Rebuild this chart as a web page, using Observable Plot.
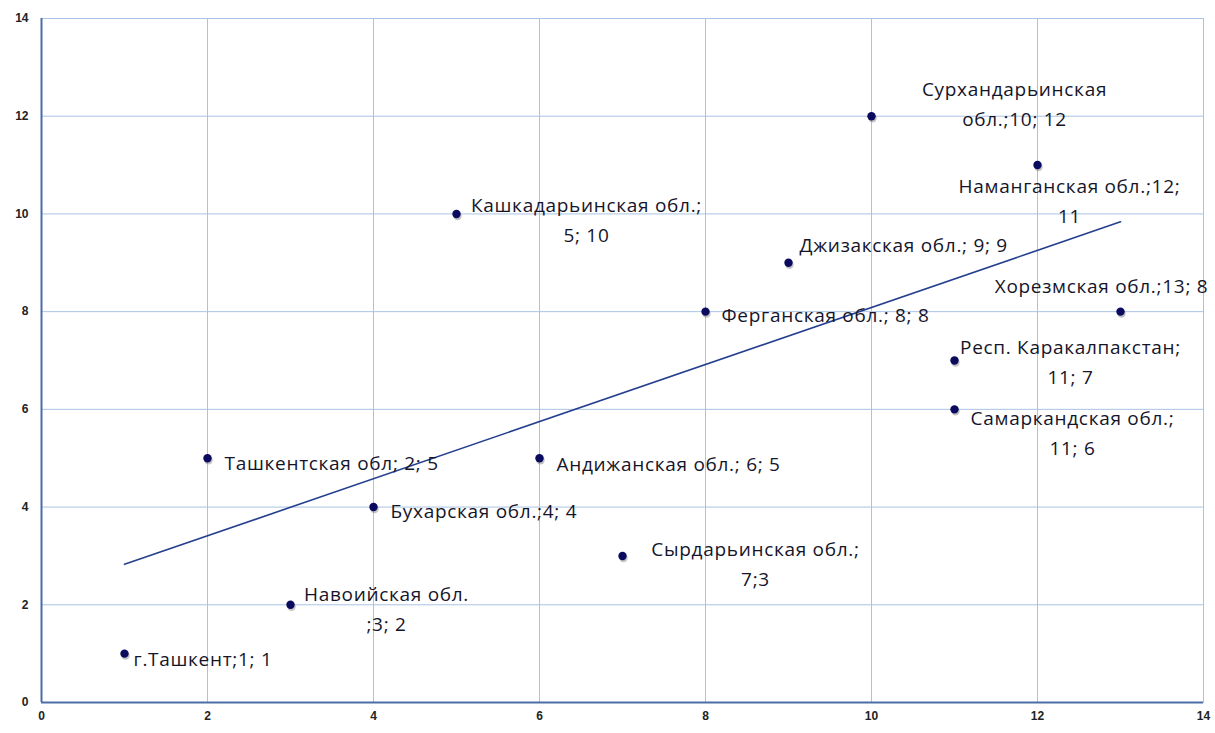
<!DOCTYPE html>
<html>
<head>
<meta charset="utf-8">
<script src="https://cdn.jsdelivr.net/npm/d3@7"></script>
<script src="https://cdn.jsdelivr.net/npm/@observablehq/plot@0.6"></script>
<style>
  html, body { margin: 0; padding: 0; background: #fff; }
  #chart svg { display: block; }
  #chart svg g[aria-label="text"] text { letter-spacing: 0.7px; }
</style>
</head>
<body>
<div id="chart"></div>
<script>
// ---- Data ----
const regions = [
  "г.Ташкент", "Ташкентская обл", "Навоийская обл.", "Бухарская обл.",
  "Кашкадарьинская обл.", "Андижанская обл.", "Сырдарьинская обл.",
  "Ферганская обл.", "Джизакская обл.", "Сурхандарьинская обл.",
  "Наманганская обл.", "Хорезмская обл.", "Респ. Каракалпакстан",
  "Самаркандская обл."
];
const xValues = [1, 2, 3, 4, 5, 6, 7, 8, 9, 10, 12, 13, 11, 11];
const yValues = [1, 5, 2, 4, 10, 5, 3, 8, 9, 12, 11, 8, 7, 6];
const labelTexts = [
  "г.Ташкент;1; 1",
  "Ташкентская обл; 2; 5",
  "Навоийская обл.\n;3; 2",
  "Бухарская обл.;4; 4",
  "Кашкадарьинская обл.;\n5; 10",
  "Андижанская обл.; 6; 5",
  "Сырдарьинская обл.;\n7;3",
  "Ферганская обл.; 8; 8",
  "Джизакская обл.; 9; 9",
  "Сурхандарьинская\nобл.;10; 12",
  "Наманганская обл.;12;\n11",
  "Хорезмская обл.;13; 8",
  "Респ. Каракалпакстан;\n11; 7",
  "Самаркандская обл.;\n11; 6"
];
const xTicks = [0, 2, 4, 6, 8, 10, 12, 14];
const yTicks = [0, 2, 4, 6, 8, 10, 12, 14];

// ---- Layout (label placement, pixels: dx, dy, anchor) ----
const labelLayout = [
  [9, 3, "start"],
  [17, 2, "start"],
  [96, 2, "middle"],
  [17, 1, "start"],
  [130, 3, "middle"],
  [17, 3, "start"],
  [133, 5, "middle"],
  [16, 1, "start"],
  [11, -20, "start"],
  [143, -15, "middle"],
  [32, 33, "middle"],
  [-19, -28, "middle"],
  [116, -1, "middle"],
  [118, 21, "middle"]
];

const data = regions.map((r, i) => ({region: r, x: xValues[i], y: yValues[i], label: labelTexts[i]}));

const gridColor = "#a9c3e4";
const axisColor = "#4d6da8";
const dotColor = "#0a0a5e";
const textColor = "#15152a";
const labelFont = "'Open Sans', sans-serif";
const labelSize = 19;

const labelMarks = data.map((d, i) => Plot.text([d], {
  x: "x", y: "y", text: "label",
  dx: labelLayout[i][0], dy: labelLayout[i][1],
  textAnchor: labelLayout[i][2], lineAnchor: "middle",
  lineHeight: 30 / labelSize,
  fill: textColor, fontSize: labelSize, fontFamily: labelFont
}));

const chart = Plot.plot({
  width: 1215,
  height: 733,
  marginLeft: 41,
  marginRight: 12,
  marginTop: 18,
  marginBottom: 31,
  x: {domain: [0, 14]},
  y: {domain: [0, 14]},
  style: {fontFamily: "'Liberation Sans', Arial, sans-serif", background: "#fff"},
  marks: [
    Plot.gridX(xTicks, {stroke: gridColor, strokeOpacity: 1, strokeWidth: 1}),
    Plot.gridY(yTicks, {stroke: gridColor, strokeOpacity: 1, strokeWidth: 1}),
    Plot.frame({stroke: gridColor, strokeWidth: 1}),
    Plot.ruleX([0], {stroke: axisColor, strokeWidth: 2}),
    Plot.ruleY([0], {stroke: axisColor, strokeWidth: 2}),
    Plot.axisX({ticks: xTicks, tickSize: 0, tickPadding: 9, label: null, fontWeight: "bold", fontSize: 12, fill: "#222"}),
    Plot.axisY({ticks: yTicks, tickSize: 0, tickPadding: 13, label: null, fontWeight: "bold", fontSize: 12, fill: "#222"}),
    Plot.linearRegressionY(data, {x: "x", y: "y", stroke: "#253f8f", strokeWidth: 1.6, ci: 0}),
    Plot.dot(data, {x: "x", y: "y", r: 4.2, fill: "#7a7a7a", fillOpacity: 0.45, dx: 1, dy: 2}),
    Plot.dot(data, {x: "x", y: "y", r: 4.2, fill: dotColor}),
    ...labelMarks
  ]
});
document.getElementById("chart").appendChild(chart);
</script>
</body>
</html>
